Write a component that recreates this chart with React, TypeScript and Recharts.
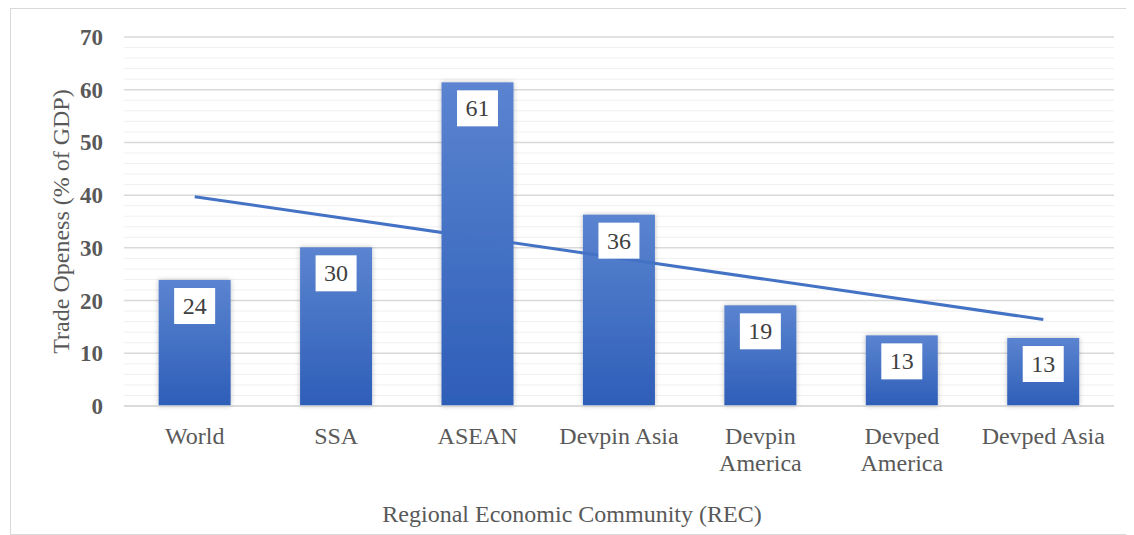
import React from 'react';
import {
  BarChart, Bar, XAxis, YAxis, CartesianGrid, LabelList, ReferenceLine,
} from 'recharts';

// Trade openness by region
const categories = ['World', 'SSA', 'ASEAN', 'Devpin Asia', 'Devpin\nAmerica', 'Devped\nAmerica', 'Devped Asia'];
const openness = [23.9, 30.1, 61.4, 36.3, 19.1, 13.4, 12.9];

// linear trend line end points (at first and last category)
const trendStart = 39.7;
const trendEnd = 16.4;

const yMax = 70;
const majorTicks = [0, 10, 20, 30, 40, 50, 60, 70];
const minorTicks = [2, 4, 6, 8, 12, 14, 16, 18, 22, 24, 26, 28, 32, 34, 36, 38, 42, 44, 46, 48, 52, 54, 56, 58, 62, 64, 66, 68];

const data = categories.map((c, i) => ({ name: c, value: openness[i] }));

const FONT = '"Liberation Serif", "Times New Roman", serif';
const GREY = '#595959';

const XTick = (props: any) => {
  const { x, y, payload } = props;
  const lines: string[] = String(payload.value).split('\n');
  return (
    <g>
      {lines.map((l, i) => (
        <text key={i} x={x} y={y + 38 + i * 27} textAnchor="middle" fontFamily={FONT} fontSize={24} fill={GREY}>
          {l}
        </text>
      ))}
    </g>
  );
};

const YTick = (props: any) => {
  const { x, y, payload } = props;
  return (
    <text x={x - 21} y={y + 8} textAnchor="end" fontFamily={FONT} fontSize={23} fontWeight="bold" fill={GREY}>
      {payload.value}
    </text>
  );
};

const ValueLabel = (props: any) => {
  const { x, y, width, value } = props;
  const cx = x + width / 2;
  const w = 41;
  const h = 36;
  return (
    <g>
      <rect x={cx - w / 2} y={y + 8} width={w} height={h} fill="#FFFFFF" />
      <text x={cx} y={y + 8 + h / 2 + 8} textAnchor="middle" fontFamily={FONT} fontSize={24} fill="#404040">
        {Math.round(value)}
      </text>
    </g>
  );
};

const BarShape = (props: any) => {
  const { x, y, width, height } = props;
  return <rect x={x} y={y} width={width} height={height} fill="url(#barGrad)" filter="url(#barShadow)" />;
};

// minor gridlines every 2 units, placed inside the plot box
const minorLines = ({ offset }: any) =>
  minorTicks.map(v => offset.top + ((yMax - v) / yMax) * offset.height);

export default function App() {
  return (
    <div style={{ position: 'relative', width: 1122, height: 525, border: '1px solid #D9D9D9', marginLeft: 2, background: '#fff' }}>
      <BarChart
        width={1122}
        height={525}
        data={data}
        margin={{ top: 28, right: 19, left: 0, bottom: 98 }}
        barCategoryGap="24.5%"
      >
        <defs>
          <linearGradient id="barGrad" x1="0" y1="0" x2="0" y2="1">
            <stop offset="0%" stopColor="#5B84D0" />
            <stop offset="100%" stopColor="#2E5EB8" />
          </linearGradient>
          <filter id="barShadow" x="-20%" y="-10%" width="140%" height="120%">
            <feDropShadow dx="0" dy="0" stdDeviation="2.5" floodColor="#000" floodOpacity="0.25" />
          </filter>
        </defs>
        <CartesianGrid vertical={false} stroke="#F0F0F0" horizontalCoordinatesGenerator={minorLines} />
        <CartesianGrid vertical={false} stroke="#D9D9D9" strokeWidth={1.5} />
        <XAxis
          dataKey="name"
          interval={0}
          height={30}
          tickSize={0}
          tickMargin={0}
          axisLine={{ stroke: '#D9D9D9', strokeWidth: 1.5 }}
          tickLine={false}
          tick={<XTick />}
        />
        <YAxis
          domain={[0, yMax]}
          ticks={majorTicks}
          width={113}
          tickSize={0}
          tickMargin={0}
          axisLine={false}
          tickLine={false}
          tick={<YTick />}
          label={{
            value: 'Trade Openess (% of GDP)',
            angle: -90,
            position: 'insideLeft',
            offset: 49,
            style: { textAnchor: 'middle', fontFamily: FONT, fontSize: 24, fill: GREY },
          }}
        />
        <Bar dataKey="value" shape={<BarShape />} isAnimationActive={false}>
          <LabelList dataKey="value" content={<ValueLabel />} />
        </Bar>
        <ReferenceLine
          segment={[{ x: categories[0], y: trendStart }, { x: categories[categories.length - 1], y: trendEnd }]}
          stroke="#4472C4"
          strokeWidth={3}
        />
      </BarChart>
      <div
        style={{
          position: 'absolute', left: 0, width: 1122, top: 492, textAlign: 'center',
          fontFamily: FONT, fontSize: 24, color: GREY,
        }}
      >
        Regional Economic Community (REC)
      </div>
    </div>
  );
}
